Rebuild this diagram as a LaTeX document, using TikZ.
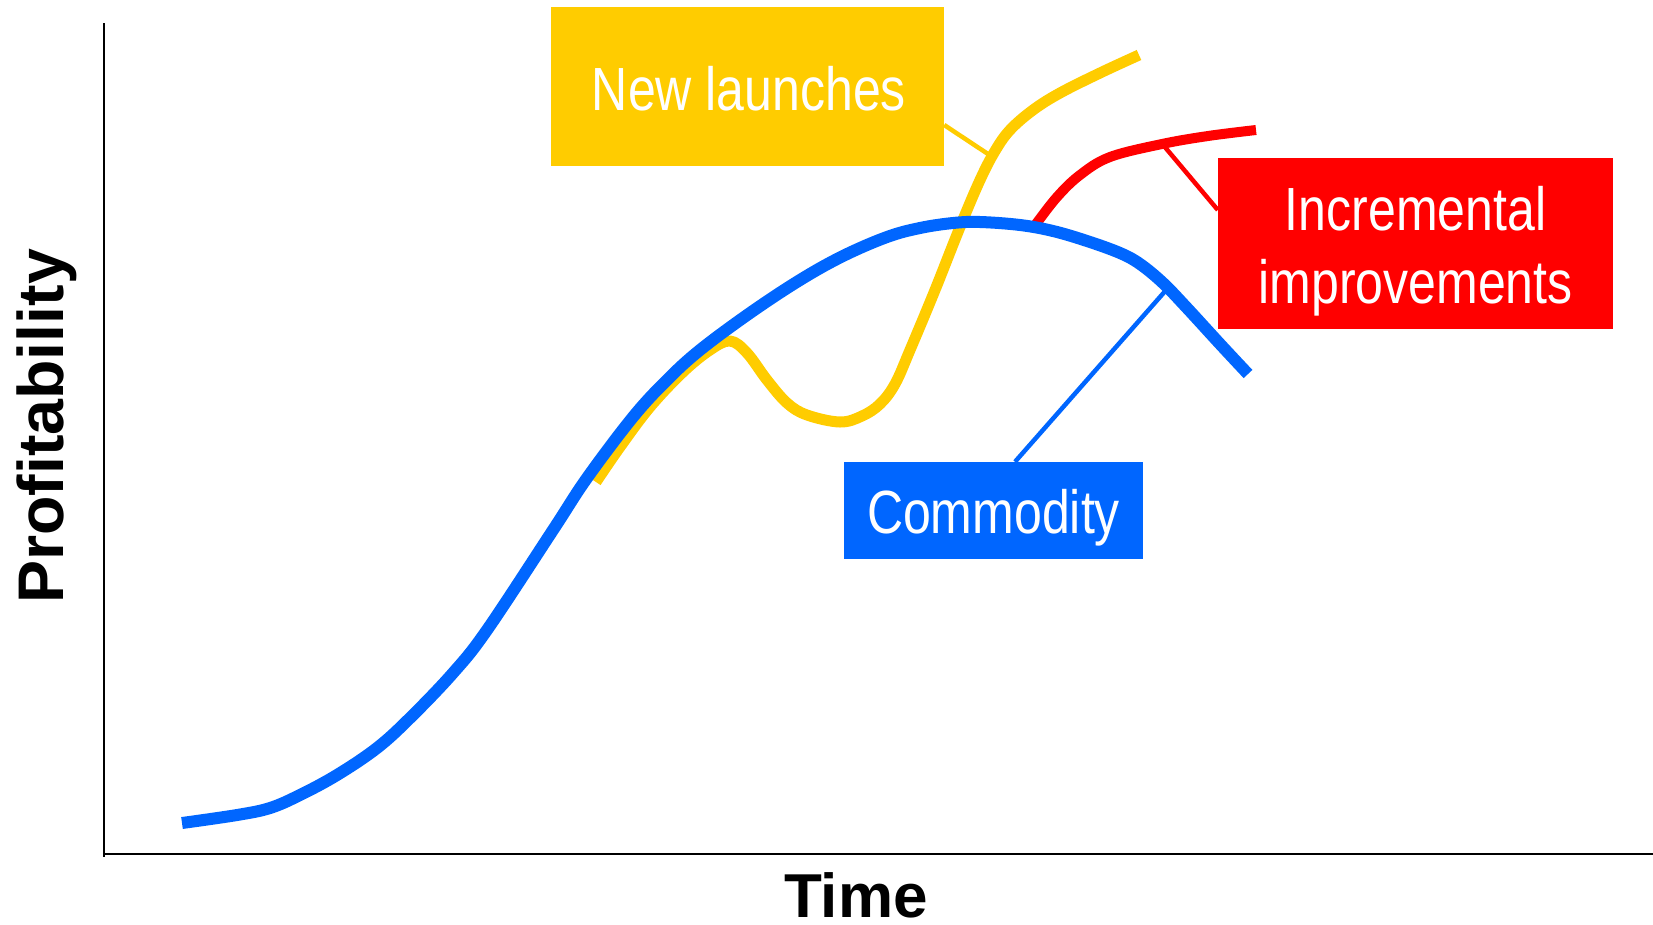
\documentclass[tikz,border=0pt]{standalone}
\usepackage{fontspec}
\setmainfont{Liberation Sans}
\newfontfamily\narrowfont[FakeStretch=0.82]{Liberation Sans}
\definecolor{cyellow}{HTML}{FFCC00}
\definecolor{cred}{HTML}{FF0000}
\definecolor{cblue}{HTML}{0066FF}
\begin{document}
\begin{tikzpicture}[x=1pt,y=-1pt,
  axisline/.style={line width=2.5pt, black},
  curveline/.style={line width=#1, line cap=butt, line join=round},
  labelbox/.style={fill=#1, inner sep=0pt, draw=none},
  boxtext/.style={text=white, font=\narrowfont\fontsize{61}{73}\selectfont, inner sep=0pt, anchor=base},
  axistext/.style={font=\bfseries\fontsize{#1}{74}\selectfont, inner sep=0pt, anchor=base},
  leader/.style={line width=4.5pt, line cap=butt}
]
\useasboundingbox (0,0) rectangle (1653,924);

% axes
\draw[axisline] (104,23) -- (104,857);
\draw[axisline] (102.75,854) -- (1653,854);
\node[axistext=62] (time) at (856,917) {Time};
\node[axistext=64.5, rotate=90] (prof) at (63,426.5) {Profitability};

% label boxes
\node[labelbox=cyellow, minimum width=393pt, minimum height=159pt] (nl) at (747.5,86.5) {};
\node[boxtext] (nltext) at (749,110) {New launches};
\node[labelbox=cred, minimum width=395pt, minimum height=171pt] (inc) at (1415.5,243.5) {};
\node[boxtext] (inctext1) at (1415.5,230) {Incremental};
\node[boxtext] (inctext2) at (1415.5,303) {improvements};
\node[labelbox=cblue, minimum width=299pt, minimum height=97pt] (com) at (993.5,510.5) {};
\node[boxtext] (comtext) at (993.5,533) {Commodity};

% attachment points on curves
\coordinate (yp) at (991,156);
\coordinate (rp) at (1164,146);
\coordinate (bp) at (1167,289);

% yellow curve
\draw[curveline=11pt, cyellow] plot[smooth, tension=0.6] coordinates {
  (596,482) (620,447) (650,407) (683,372) (710,350) (730,341) (747,353) (767,380)
  (787,403) (807,415) (840,422) (862,416) (880,404) (895,384) (910,350) (935,290)
  (960,227) (980,180) (995,151) (1010,130) (1033,110) (1060,93) (1100,73) (1139,55)};
\draw[leader, cyellow] ([yshift=-38.5pt]nl.east) -- (yp);

% red curve
\draw[curveline=10pt, cred] plot[smooth, tension=0.6] coordinates {
  (1036,224) (1057,197) (1080,175) (1110,157) (1162,144) (1208,136) (1256,130)};
\draw[leader, cred] (rp) -- ([yshift=33.5pt]inc.west);

% blue curve
\draw[leader, cblue] ([xshift=21.5pt]com.north) -- (bp);
\draw[curveline=12pt, cblue] plot[smooth, tension=0.6] coordinates {
  (182,823) (237,815) (270,808) (300,795) (337,775) (377,748) (410,718) (453,673)
  (487,630) (553,530) (587,478) (633,417) (667,380) (700,350) (750,313) (800,280)
  (843,256) (887,237) (920,228) (953,223) (980,222) (1020,225) (1053,231) (1087,241)
  (1120,253) (1140,264) (1163,283) (1187,308) (1220,344) (1248,374)};
\end{tikzpicture}
\end{document}
